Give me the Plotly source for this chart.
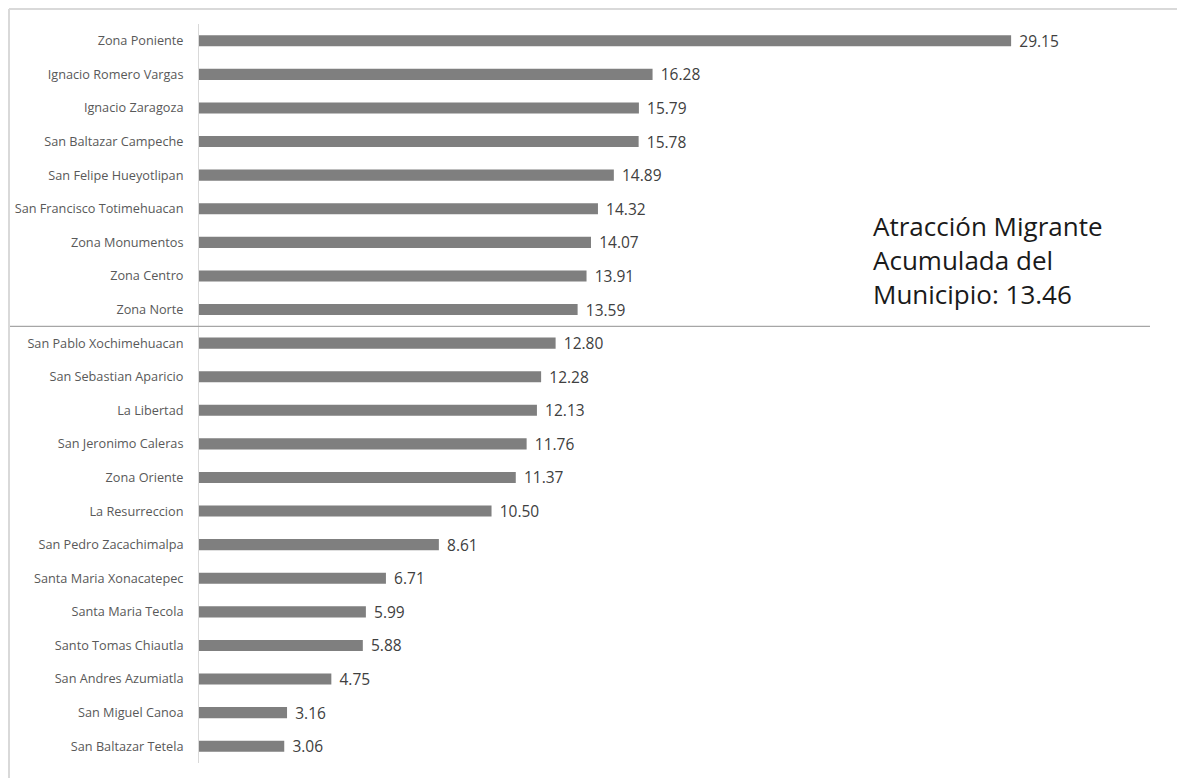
import plotly.graph_objects as go

# Localidades ordenadas de mayor a menor
localidades = [
    "Zona Poniente", "Ignacio Romero Vargas", "Ignacio Zaragoza",
    "San Baltazar Campeche", "San Felipe Hueyotlipan", "San Francisco Totimehuacan",
    "Zona Monumentos", "Zona Centro", "Zona Norte", "San Pablo Xochimehuacan",
    "San Sebastian Aparicio", "La Libertad", "San Jeronimo Caleras",
    "Zona Oriente", "La Resurreccion", "San Pedro Zacachimalpa",
    "Santa Maria Xonacatepec", "Santa Maria Tecola", "Santo Tomas Chiautla",
    "San Andres Azumiatla", "San Miguel Canoa", "San Baltazar Tetela",
]
atraccion = [
    29.15, 16.28, 15.79, 15.78, 14.89, 14.32, 14.07, 13.91, 13.59, 12.80,
    12.28, 12.13, 11.76, 11.37, 10.50, 8.61, 6.71, 5.99, 5.88, 4.75, 3.16, 3.06,
]
municipio = 13.46

# the page body has an 8px margin, so the figure is a bit smaller
OFF = 8
W, H = 1185 - OFF, 778 - OFF
L, R, T, B = 199 - OFF, 35, 24 - OFF, 15
pw, ph = W - L - R, H - T - B

fig = go.Figure()
fig.add_trace(go.Bar(
    x=atraccion,
    y=localidades,
    orientation="h",
    width=0.33,
    marker=dict(color="#7f7f7f", line=dict(width=0)),
    text=["\u2004" + f"{v:.2f}" for v in atraccion],
    textposition="outside",
    constraintext="none",
    textfont=dict(family="Open Sans", size=15.5, color="#404040"),
    cliponaxis=False,
))

# linea divisoria: localidades por encima / debajo del municipio
n_above = sum(v > municipio for v in atraccion)
fig.add_shape(
    type="line", xref="paper", yref="y",
    x0=-L / pw, x1=1.0, y0=n_above - 0.5, y1=n_above - 0.5,
    line=dict(color="#a6a6a6", width=1.2),
)

# marco
top = (H - B - 1) / ph
left = (1 - L) / pw
fig.add_shape(type="line", xref="paper", yref="paper",
              x0=left, x1=(W - L) / pw, y0=top, y1=top,
              line=dict(color="#d9d9d9", width=2))
fig.add_shape(type="line", xref="paper", yref="paper",
              x0=left, x1=left, y0=top, y1=-B / ph - 0.01,
              line=dict(color="#d9d9d9", width=2))

fig.add_annotation(
    text=f"Atracción Migrante<br>Acumulada del<br>Municipio: {municipio:.2f}",
    xref="paper", yref="paper",
    x=(871 - OFF - L) / pw, y=(H - B - (260 - OFF)) / ph,
    xanchor="left", yanchor="middle", align="left",
    showarrow=False,
    font=dict(family="Open Sans", size=26, color="#1a1a1a"),
)

fig.update_xaxes(
    range=[0, pw / 27.86],
    visible=False,
    automargin=False,
)
fig.update_yaxes(
    autorange="reversed",
    automargin=False,
    showline=True, linecolor="#d9d9d9", linewidth=1,
    showgrid=False, ticks="",
    ticklabelstandoff=12,
    tickfont=dict(family="Open Sans", size=12.7, color="#595959"),
)

fig.update_layout(
    width=W, height=H,
    margin=dict(l=L, r=R, t=T, b=B),
    plot_bgcolor="white", paper_bgcolor="white",
    showlegend=False,
    bargap=0.67,
)

fig.write_html("out.html")
